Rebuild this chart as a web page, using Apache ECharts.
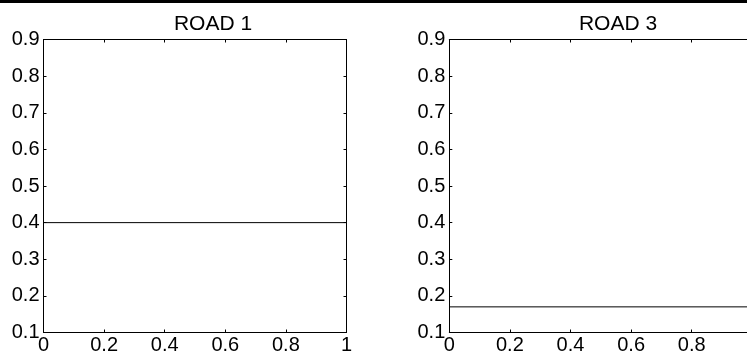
<!DOCTYPE html>
<html>
<head>
<meta charset="utf-8">
<script src="https://cdn.jsdelivr.net/npm/echarts@6/dist/echarts.min.js"></script>
<style>html,body{margin:0;padding:0;background:#fff;}#c{width:747px;height:358px;}</style>
</head>
<body>
<div id="c"></div>
<script>
const titles = ['ROAD 1', 'ROAD 3'];
const xValues = [0, 1];
const road1Values = [0.4, 0.4];
const road3Values = [0.17, 0.17];
const yMin = 0.1, yMax = 0.9, yStep = 0.1;
const xMin = 0, xMax = 1, xStep = 0.2;

const FONT = '"Liberation Sans", Arial, sans-serif';
const chart = echarts.init(document.getElementById('c'), null, {renderer: 'canvas'});

const grids = [
  {left: 43.5, top: 39.5, width: 303, height: 293, outerBoundsMode: 'none', containLabel: false},
  {left: 449.3, top: 39.5, width: 303, height: 293, outerBoundsMode: 'none', containLabel: false}
];

const xAxes = [], yAxes = [], series = [];
const seriesData = [road1Values, road3Values];
grids.forEach((g, i) => {
  const base = {
    type: 'value', gridIndex: i, min: xMin, max: xMax, interval: xStep,
    splitLine: {show: false},
    axisLine: {show: true, onZero: false, lineStyle: {color: '#000', width: 1}},
    axisTick: {show: true, inside: true, length: 3, lineStyle: {color: '#000'}}
  };
  xAxes.push(Object.assign({}, base, {
    position: 'bottom',
    axisLabel: {show: true, color: '#000', fontFamily: FONT, fontSize: 20, margin: 3,
      formatter: v => String(+v.toFixed(1))}
  }));
  xAxes.push(Object.assign({}, base, {position: 'top', axisLabel: {show: false}}));
  const ybase = {
    type: 'value', gridIndex: i, min: yMin, max: yMax, interval: yStep,
    splitLine: {show: false},
    axisLine: {show: true, onZero: false, lineStyle: {color: '#000', width: 1}},
    axisTick: {show: true, inside: true, length: 3, lineStyle: {color: '#000'}}
  };
  yAxes.push(Object.assign({}, ybase, {
    position: 'left',
    axisLabel: {show: true, color: '#000', fontFamily: FONT, fontSize: 20, margin: 4,
      formatter: v => (+v).toFixed(1)}
  }));
  yAxes.push(Object.assign({}, ybase, {position: 'right', axisLabel: {show: false}}));
  series.push({
    type: 'line', xAxisIndex: i * 2, yAxisIndex: i * 2,
    data: xValues.map((x, k) => [x, seriesData[i][k]]),
    symbol: 'none', silent: true, animation: false,
    lineStyle: {color: '#000', width: 1}
  });
});

chart.setOption({
  animation: false,
  backgroundColor: '#fff',
  title: [
    {text: titles[0], left: 208, top: 9, textAlign: 'center',
      textStyle: {fontFamily: FONT, fontSize: 21, fontWeight: 'normal', color: '#000'}},
    {text: titles[1], left: 613, top: 9, textAlign: 'center',
      textStyle: {fontFamily: FONT, fontSize: 21, fontWeight: 'normal', color: '#000'}}
  ],
  graphic: [{type: 'rect', shape: {x: 0, y: 0, width: 747, height: 3}, style: {fill: '#000'}, silent: true}],
  grid: grids,
  xAxis: xAxes,
  yAxis: yAxes,
  series: series
});
</script>
</body>
</html>
